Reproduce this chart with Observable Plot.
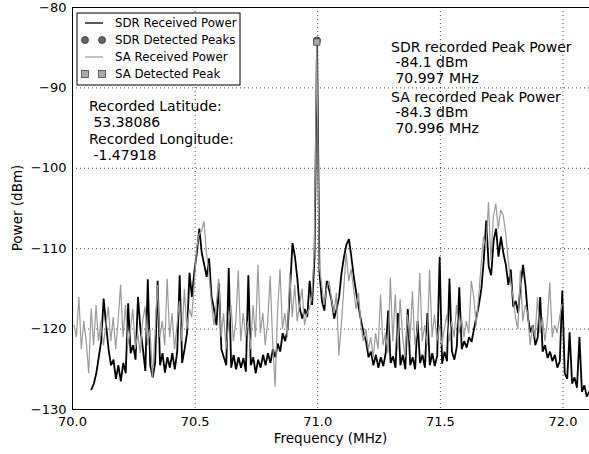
<!DOCTYPE html>
<html>
<head>
<meta charset="utf-8">
<script src="https://cdn.jsdelivr.net/npm/d3@7"></script>
<script src="https://cdn.jsdelivr.net/npm/@observablehq/plot@0.6"></script>
<style>
  body { margin: 0; background: #fff; }
  #chart svg { display: block; font-family: "DejaVu Sans", sans-serif; }
  #chart svg text.pre { white-space: pre; }
</style>
</head>
<body>
<div id="chart"></div>
<script>
// SDR sweep: uniform 10 kHz bins starting at 70.077 MHz (power in dBm)
const sdrStart = 70.077;
const sdrStep = 0.01;
const sdrPower = [
  -127.5, -126.8, -125.5, -123.5, -121.5, -116.2, -119.5, -122.5, -124.5, -123.8,
  -126.2, -124.5, -126.5, -124.2, -125.5, -116.8, -123.0, -122.0, -123.8, -116.0,
  -120.0, -122.5, -125.2, -113.8, -124.5, -126.0, -124.2, -114.0, -124.5, -123.0,
  -125.4, -123.5, -124.8, -123.0, -125.0, -122.8, -113.3, -124.2, -122.5, -120.5,
  -113.0, -116.0, -112.8, -110.5, -107.5, -110.5, -112.0, -113.5, -111.2, -116.0,
  -117.5, -119.5, -114.3, -122.5, -123.5, -124.5, -112.4, -124.8, -123.2, -125.0,
  -123.5, -124.8, -123.6, -125.3, -113.3, -124.5, -123.5, -125.5, -123.8, -124.8,
  -123.2, -124.5, -123.0, -124.2, -122.5, -123.5, -121.8, -122.8, -120.5, -121.5,
  -120.0, -115.0, -109.3, -111.0, -113.8, -117.5, -118.7, -117.5, -118.5, -114.0,
  -117.0, -111.0, -84.1, -113.0, -116.5, -117.7, -114.0, -115.2, -116.5, -118.7,
  -117.5, -116.0, -113.0, -111.0, -109.5, -108.8, -111.0, -113.5, -115.5, -117.3,
  -119.0, -120.5, -121.5, -123.5, -122.8, -124.5, -123.2, -124.8, -123.5, -124.6,
  -123.0, -117.7, -124.2, -123.4, -124.8, -118.0, -124.5, -123.2, -125.0, -117.5,
  -124.5, -123.5, -125.0, -119.0, -124.2, -123.2, -124.8, -118.0, -124.5, -123.0,
  -124.6, -123.3, -111.0, -124.3, -122.8, -124.0, -113.7, -122.8, -123.8, -122.2,
  -114.8, -122.5, -121.5, -122.3, -121.0, -121.6, -120.0, -118.5, -117.0, -115.0,
  -111.4, -106.5, -112.2, -113.3, -109.0, -107.5, -111.0, -108.5, -110.6, -112.0,
  -114.5, -112.6, -117.2, -116.5, -118.0, -114.5, -112.0, -114.6, -118.5, -120.4,
  -119.5, -122.0, -121.0, -116.0, -122.8, -122.0, -123.6, -122.8, -124.0, -123.2,
  -124.8, -124.0, -115.2, -125.5, -126.2, -120.4, -126.8, -126.0, -127.3, -121.0,
  -127.8, -127.0, -128.4, -127.8
];

// Spectrum analyser sweep: uniform 10 kHz bins starting at 70.006 MHz (power in dBm)
const saStart = 70.006;
const saStep = 0.01;
const saPower = [
  -119.5, -121.0, -116.0, -122.5, -119.0, -121.5, -125.5, -117.4, -122.0, -117.0,
  -121.5, -119.0, -122.0, -119.5, -117.2, -121.5, -118.5, -122.5, -119.0, -114.5,
  -121.0, -117.0, -122.0, -120.0, -117.5, -122.5, -120.5, -123.0, -119.0, -117.2,
  -122.0, -120.0, -126.0, -121.0, -114.5, -121.0, -119.0, -122.0, -113.7, -121.0,
  -118.0, -122.5, -119.5, -116.5, -121.5, -115.0, -120.0, -117.5, -118.5, -114.5,
  -110.0, -108.2, -107.8, -106.6, -110.5, -113.0, -116.5, -119.5, -117.0, -113.7,
  -121.0, -118.0, -122.5, -119.5, -117.0, -121.5, -119.0, -112.7, -121.5, -118.0,
  -121.0, -119.0, -122.5, -117.0, -121.0, -112.0, -120.5, -118.0, -122.0, -119.0,
  -113.4, -121.5, -127.2, -118.0, -112.5, -120.0, -118.0, -121.0, -113.0, -118.5,
  -114.5, -119.0, -117.0, -115.0, -119.5, -118.0, -117.5, -116.0, -110.0, -84.3,
  -112.0, -114.5, -117.0, -115.0, -114.0, -116.3, -118.0, -115.5, -123.3, -119.5,
  -115.0, -110.5, -114.0, -112.5, -115.0, -117.5, -115.5, -119.5, -121.5, -120.0,
  -122.5, -121.0, -123.5, -120.5, -122.5, -115.7, -122.0, -120.5, -123.0, -113.6,
  -121.5, -115.7, -122.5, -116.3, -121.0, -123.5, -118.2, -121.5, -115.3, -122.0,
  -120.0, -113.0, -121.5, -119.5, -122.0, -112.6, -121.0, -118.2, -121.5, -119.5,
  -122.0, -120.0, -118.2, -121.5, -119.0, -121.0, -117.0, -120.5, -118.5, -121.0,
  -119.0, -120.5, -114.0, -116.0, -119.5, -116.0, -112.0, -108.5, -110.0, -104.2,
  -111.5, -106.0, -104.4, -107.5, -105.2, -105.8, -108.0, -111.3, -114.0, -116.0,
  -118.5, -120.0, -112.7, -119.0, -117.0, -118.0, -122.0, -119.5, -121.0, -116.0,
  -120.5, -118.5, -121.5, -119.0, -114.2, -121.0, -119.5, -120.5, -118.5, -116.9
];

// Detected peaks
const sdrPeak = {freq: 70.997, power: -84.1};
const saPeak = {freq: 70.996, power: -84.3};

// Recording position
const latitude = "53.38086";
const longitude = "-1.47918";

// Axes
const xTicks = [70.0, 70.5, 71.0, 71.5, 72.0];
const yTicks = [-80, -90, -100, -110, -120, -130];
const xLabel = "Frequency (MHz)";
const yLabel = "Power (dBm)";
const legendLabels = ["SDR Received Power", "SDR Detected Peaks", "SA Received Power", "SA Detected Peak"];

const sdr = sdrPower.map((p, i) => ({f: sdrStart + i * sdrStep, p}));
const sa = saPower.map((p, i) => ({f: saStart + i * saStep, p}));

const sdrColor = "#000";
const saColor = "#9a9a9a";
const dotFill = "#666";
const squareFill = "#aaa";

const W = 589, H = 454;
const gridStyle = {stroke: "#000", strokeOpacity: 0.9, strokeWidth: 0.8, strokeDasharray: "1,3"};

const chart = Plot.plot({
  width: W,
  height: H,
  marginLeft: 72,
  marginRight: 0,
  marginTop: 7,
  marginBottom: 45,
  style: {fontFamily: "DejaVu Sans, sans-serif", fontSize: "13px", color: "#000", background: "#fff"},
  x: {domain: [70, 72.108], label: null},
  y: {domain: [-130, -80], label: null},
  marks: [
    Plot.gridX(xTicks, gridStyle),
    Plot.gridY(yTicks, gridStyle),
    Plot.line(sdr, {x: "f", y: "p", stroke: sdrColor, strokeWidth: 1.8, strokeLinejoin: "miter"}),
    Plot.dot([sdrPeak], {x: "freq", y: "power", r: 3.5, fill: dotFill, stroke: "#333", strokeWidth: 0.8}),
    Plot.line(sa, {x: "f", y: "p", stroke: saColor, strokeWidth: 1.2, strokeLinejoin: "miter"}),
    Plot.dot([saPeak], {x: "freq", y: "power", symbol: "square", r: 3.6, fill: squareFill, stroke: "#444", strokeWidth: 0.8}),
    Plot.axisX({ticks: xTicks, tickSize: 0, tickPadding: 7, tickFormat: d => d.toFixed(1), label: null, fontSize: 13}),
    Plot.axisY({ticks: yTicks, tickSize: 0, tickPadding: 6, label: null, fontSize: 13}),
    Plot.frame({stroke: "#000", strokeWidth: 1})
  ]
});

document.getElementById("chart").append(chart);

const svg = d3.select(chart);

// Axis titles
svg.append("text")
  .attr("x", (72 + W) / 2).attr("y", 443)
  .attr("text-anchor", "middle").attr("font-size", 13.5).attr("fill", "#000")
  .text(xLabel);
svg.append("text")
  .attr("transform", "translate(22,208) rotate(-90)")
  .attr("text-anchor", "middle").attr("font-size", 13.5).attr("fill", "#000")
  .text(yLabel);

// Legend box
const lg = svg.append("g").attr("transform", "translate(77,13)");
lg.append("rect").attr("width", 163).attr("height", 72)
  .attr("fill", "#fff").attr("stroke", "#000").attr("stroke-width", 1);
const rowY = [10, 27, 44, 61];
legendLabels.forEach((lab, i) => {
  const y = rowY[i];
  if (i === 0 || i === 2) {
    lg.append("line").attr("x1", 8).attr("x2", 26).attr("y1", y).attr("y2", y)
      .attr("stroke", i === 0 ? sdrColor : saColor).attr("stroke-width", i === 0 ? 1.3 : 1.2);
  } else if (i === 1) {
    [8, 25].forEach(cx => lg.append("circle").attr("cx", cx).attr("cy", y).attr("r", 3.5)
      .attr("fill", dotFill).attr("stroke", "#333").attr("stroke-width", 0.8));
  } else {
    [8, 25].forEach(cx => lg.append("rect").attr("x", cx - 3.5).attr("y", y - 3.5)
      .attr("width", 7).attr("height", 7)
      .attr("fill", squareFill).attr("stroke", "#444").attr("stroke-width", 0.8));
  }
  lg.append("text").attr("x", 38).attr("y", y).attr("dy", "0.36em")
    .attr("text-anchor", "start")
    .attr("font-size", 11.8).attr("fill", "#000").text(lab);
});

// Annotations
function block(x, y0, lines, step) {
  lines.forEach((t, i) => {
    svg.append("text").attr("class", "pre")
      .attr("x", x).attr("y", y0 + i * step)
      .attr("text-anchor", "start")
      .attr("font-size", 14).attr("fill", "#000")
      .text(t);
  });
}
block(89, 111, ["Recorded Latitude:", " " + latitude, "Recorded Longitude:", " " + longitude], 16.3);
block(391, 51.5, ["SDR recorded Peak Power", " " + sdrPeak.power.toFixed(1) + " dBm", " " + sdrPeak.freq.toFixed(3) + " MHz"], 15.5);
block(391, 101.5, ["SA recorded Peak Power", " " + saPeak.power.toFixed(1) + " dBm", " " + saPeak.freq.toFixed(3) + " MHz"], 15.5);
</script>
</body>
</html>
